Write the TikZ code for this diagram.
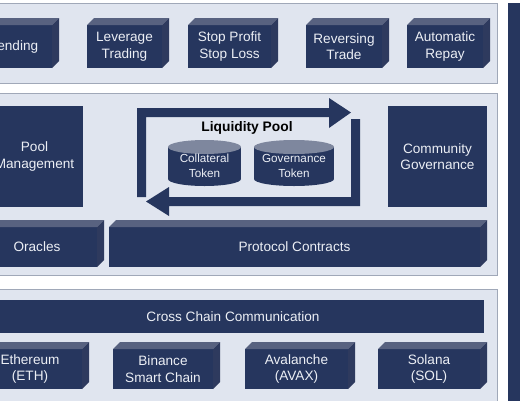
\documentclass[tikz,border=0pt]{standalone}
\usepackage{fontspec}
\setmainfont{Liberation Sans}
\usepackage{tikz}
\usepackage{xcolor}

\definecolor{navy}{RGB}{38,54,94}
\definecolor{topface}{RGB}{88,98,128}
\definecolor{sideface}{RGB}{46,58,94}
\definecolor{panelbg}{RGB}{224,229,239}
\definecolor{panelline}{RGB}{160,168,184}
\definecolor{cyltop}{RGB}{126,135,158}
\definecolor{labeltext}{RGB}{236,239,245}

\tikzset{
  panel/.style={fill=panelbg, draw=panelline, line width=0.9pt},
  block/.style={fill=navy, text=labeltext, inner sep=0pt, outer sep=0pt, align=center,
    font=\fontsize{13.6}{16.5}\selectfont},
  cyltext/.style={text=labeltext, inner sep=0pt, align=center, font=\fontsize{11.7}{14.5}\selectfont},
}

\begin{document}
\begin{tikzpicture}[x=1pt,y=-1pt]
\useasboundingbox (0,0) rectangle (520,400);
\clip (0,0) rectangle (520,400);
\fill[white] (0,0) rectangle (520,400);

\draw[panel] (-5,3) rectangle (497,83);
\draw[panel] (-5,93) rectangle (497,275);
\draw[panel] (-5,289) rectangle (497,410);
\fill[navy] (508,3) rectangle (525,405);

\node[block, minimum width=76pt, minimum height=43pt] (lend) at (14,46.5) {Lending};
\node[block, minimum width=75pt, minimum height=43pt] (lev) at (124.5,46.5) {Leverage\\Trading};
\node[block, minimum width=83pt, minimum height=43pt] (stop) at (229.5,46.5) {Stop Profit\\Stop Loss};
\node[block, minimum width=76pt, minimum height=43pt] (rev) at (344,46.5) {Reversing\\Trade};
\node[block, minimum width=76pt, minimum height=43pt] (repay) at (445,46.5) {Automatic\\Repay};

\node[block, minimum width=97pt, minimum height=101pt] (pool) at (34.5,156.5) {Pool\\Management};
\node[block, minimum width=99pt, minimum height=101pt] (comm) at (437.5,156.5) {Community\\Governance};
\node[block, minimum width=120pt, minimum height=40pt] (oracles) at (37,247) {Oracles};
\node[block, minimum width=371pt, minimum height=40pt] (proto) at (294.5,247) {Protocol Contracts};

\node[block, minimum width=502pt, minimum height=33pt] (cross) at (233,316.5) {Cross Chain Communication};
\node[block, minimum width=104pt, minimum height=40pt] (eth) at (30,369) {Ethereum\\(ETH)};
\node[block, minimum width=100pt, minimum height=40pt] (bsc) at (163,369) {Binance\\Smart Chain};
\node[block, minimum width=103pt, minimum height=40pt] (avax) at (296.5,369) {Avalanche\\(AVAX)};
\node[block, minimum width=102pt, minimum height=40pt] (sol) at (429,369) {Solana\\(SOL)};

\foreach \n in {lend,lev,stop,rev,repay,oracles,proto,eth,bsc,avax,sol} {
  \fill[topface] (\n.north west) -- ([shift={(7,-7)}]\n.north west)
    -- ([shift={(7,-7)}]\n.north east) -- (\n.north east) -- cycle;
  \fill[sideface] (\n.north east) -- ([shift={(7,-7)}]\n.north east)
    -- ([shift={(7,-7)}]\n.south east) -- (\n.south east) -- cycle;
}

\fill[navy] (137,197) -- (137,108) -- (329,108) -- (329,98) -- (351,112.5)
  -- (329,128) -- (329,117) -- (146,117) -- (146,197) -- cycle;
\fill[navy] (351,119) -- (360,119) -- (360,206) -- (169,206) -- (169,216)
  -- (146,201.5) -- (169,187) -- (169,197) -- (351,197) -- cycle;

\foreach \cx/\r in {204.5/36.5, 294/40} {
  \fill[navy] (\cx-\r,147) rectangle (\cx+\r,179);
  \fill[navy] (\cx,179) ellipse [x radius=\r pt, y radius=7pt];
  \fill[cyltop] (\cx,147) ellipse [x radius=\r pt, y radius=7pt];
}
\node[font=\fontsize{13.8}{16}\selectfont\bfseries] (lp) at (247,128) {Liquidity Pool};
\node[cyltext] (coll) at (204.5,166) {Collateral\\Token};
\node[cyltext] (gov) at (294,166) {Governance\\Token};
\end{tikzpicture}
\end{document}
